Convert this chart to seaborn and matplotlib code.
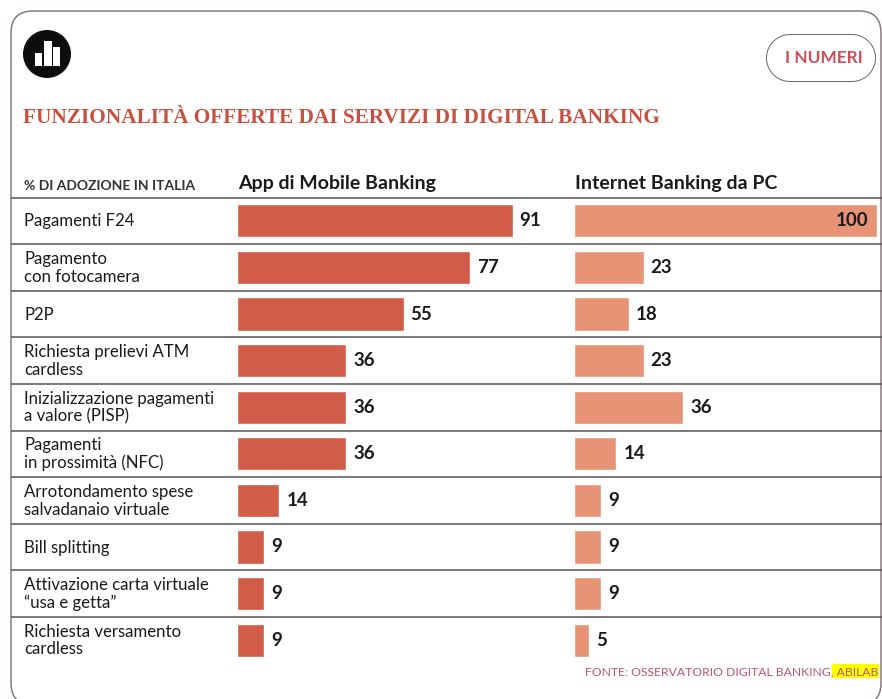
import matplotlib
matplotlib.use("Agg")
import matplotlib.pyplot as plt
from matplotlib.patches import Circle, FancyBboxPatch, Rectangle
import pandas as pd
import seaborn as sns

# Data
labels = [
    "Pagamenti F24",
    "Pagamento\ncon fotocamera",
    "P2P",
    "Richiesta prelievi ATM\ncardless",
    "Inizializzazione pagamenti\na valore (PISP)",
    "Pagamenti\nin prossimità (NFC)",
    "Arrotondamento spese\nsalvadanaio virtuale",
    "Bill splitting",
    "Attivazione carta virtuale\n“usa e getta”",
    "Richiesta versamento\ncardless",
]
mobile = [91, 77, 55, 36, 36, 36, 14, 9, 9, 9]
internet = [100, 23, 18, 23, 36, 14, 9, 9, 9, 5]

W, H = 882, 699
RED = "#d15c48"
SALMON = "#e69376"
INK = "#1a1a1a"
LINE = "#555555"

sns.set_theme(style="white")
plt.rcParams["font.family"] = ["Lato", "DejaVu Sans"]

df = pd.DataFrame({"label": labels, "mobile": mobile, "internet": internet})

fig = plt.figure(figsize=(W / 100, H / 100), dpi=100, facecolor="white")

# overlay in pixel coordinates for the card and header
bg = fig.add_axes([0, 0, 1, 1])
bg.set_xlim(0, W)
bg.set_ylim(H, 0)
bg.axis("off")

# bottom edge of the card falls just off the canvas
bg.add_patch(FancyBboxPatch((11, 11), 870, 694, boxstyle="round,pad=0,rounding_size=22",
                            fc="white", ec="#8a7a80", lw=1.1))
bg.add_patch(Circle((47, 54), 24, fc="#0d0d0d", ec="none"))
for x0, top, w in [(35, 53, 7), (44, 41, 8), (53, 47, 7)]:
    bg.add_patch(Rectangle((x0, top), w, 66 - top, fc="white", ec="none"))

# pill: thick round-capped line with a white one on top
bg.plot([790, 852], [58, 58], color="#666666", lw=34.6, solid_capstyle="round")
bg.plot([790, 852], [58, 58], color="white", lw=33.2, solid_capstyle="round")
bg.text(824, 58, "I NUMERI", color="#c9505a", fontsize=12.4, fontweight="bold",
        ha="center", va="center")

bg.text(23, 118, "FUNZIONALITÀ OFFERTE DAI SERVIZI DI DIGITAL BANKING", color="#c8503f",
        fontsize=15.3, fontweight="bold", family="Liberation Serif", ha="left", va="center")

bg.text(24, 185.5, "% DI ADOZIONE IN ITALIA", color="#333333", fontsize=10, fontweight="bold",
        ha="left", va="center")
bg.text(238, 183, "App di Mobile Banking", color=INK, fontsize=14, fontweight="bold",
        ha="left", va="center")
bg.text(575, 183, "Internet Banking da PC", color=INK, fontsize=14, fontweight="bold",
        ha="left", va="center")

top_y = 197.5
pitch = 46.6

for i, lab in enumerate(labels):
    y = top_y + pitch * i
    bg.plot([11, W], [y, y], color=LINE, lw=1.1, solid_capstyle="butt")
    bg.text(24, y + pitch / 2 + 0.5, lab, color=INK, fontsize=12.1, ha="left", va="center",
            linespacing=1.12)

bg.add_patch(Rectangle((832, 664), 47, 14, fc="#ffff00", ec="none"))
bg.text(878, 672, "FONTE: OSSERVATORIO DIGITAL BANKING, ABILAB", color="#c0566a", fontsize=8.7,
        ha="right", va="center")


def bar_panel(col, left, color):
    # 100 units = 303 px on both panels
    ax = fig.add_axes([left / W, 1 - (top_y + pitch * 10) / H, 303 / W, pitch * 10 / H])
    ax.patch.set_alpha(0)
    sns.barplot(data=df, x=col, y="label", color=color, width=0.71, saturation=1, ax=ax)
    ax.set_xlim(0, 100)
    ax.set_xlabel("")
    ax.set_ylabel("")
    ax.set_xticks([])
    ax.set_yticks([])
    sns.despine(ax=ax, left=True, bottom=True)
    for i, v in enumerate(df[col]):
        if v == 100:
            ax.text(v - 2.8, i, str(v), color=INK, fontsize=13.5, fontweight="bold",
                    ha="right", va="center")
        else:
            ax.text(v + 2.3, i, str(v), color=INK, fontsize=13.5, fontweight="bold",
                    ha="left", va="center")
    return ax


bar_panel("mobile", 237, RED)
bar_panel("internet", 574, SALMON)

fig.savefig("out.png", dpi=100, facecolor="white")
